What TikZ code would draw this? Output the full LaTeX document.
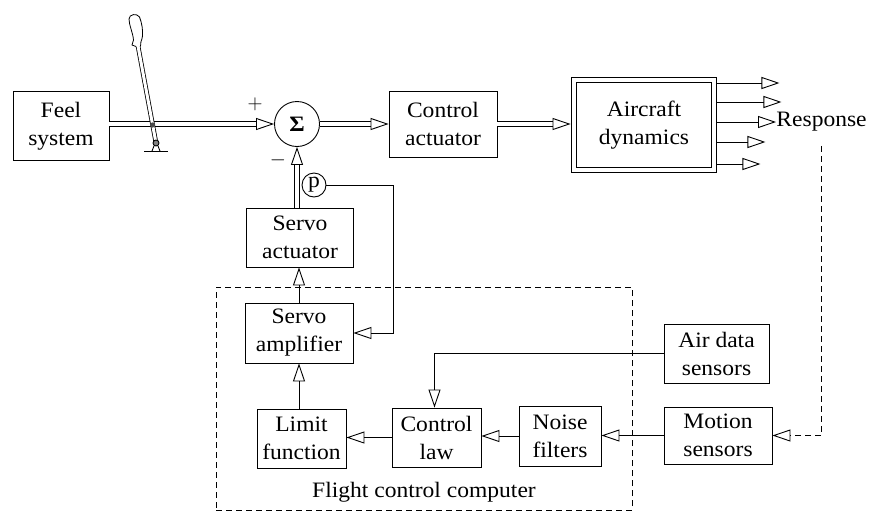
\documentclass[tikz,border=0pt]{standalone}
\usepackage{fontspec}
\setmainfont{Liberation Serif}[FakeStretch=1.07]
\usetikzlibrary{arrows.meta}

\tikzset{
  blk/.style={draw, align=center, inner sep=0pt},
  sig/.style={-{Triangle[open, length=18pt, width=12pt, line width=0.9pt]}},
  dbl/.style={double, double distance=4.5pt, -{Triangle[open, length=18pt, width=12pt, line width=0.9pt]}},
}

\begin{document}
\begin{tikzpicture}[x=1pt, y=-1pt, line width=0.9pt, font=\fontsize{22}{28}\selectfont]
    \useasboundingbox (0,0) rectangle (869,512);

    % forward path
    \node[blk, minimum width=96pt, minimum height=69pt] (feel) at (61,126) {Feel\\system};
    \node[circle, draw, minimum size=45pt, inner sep=0pt] (sum) at (297,124) {\bfseries Σ};
    \node[blk, minimum width=108pt, minimum height=66pt] (ctrlact) at (443,124) {Control\\actuator};
    \node[blk, double, double distance=4.5pt, minimum width=140pt, minimum height=90pt] (aircraft) at (644,125) {Aircraft\\dynamics};
    \node[anchor=west, inner sep=0pt] (resp) at (776,122) {Response};
    \node (plus) at (255,104) {$+$};
    \node (minus) at (278,160) {$-$};

    % feedback path
    \node[circle, draw, minimum size=24pt, inner sep=0pt] (p) at (314,185) {p};
    \node[blk, minimum width=107pt, minimum height=59pt] (servoact) at (300,237.5) {Servo\\actuator};
    \node[blk, minimum width=108pt, minimum height=60pt] (servoamp) at (299,333) {Servo\\amplifier};
    \node[blk, minimum width=89pt, minimum height=59pt] (limit) at (301.5,438.5) {Limit\\function};
    \node[blk, minimum width=89pt, minimum height=59pt] (law) at (436.5,437.5) {Control\\law};
    \node[blk, minimum width=82pt, minimum height=60pt] (noise) at (560,436) {Noise\\filters};
    \node[blk, minimum width=105pt, minimum height=59pt] (airdata) at (716.5,353.5) {Air data\\sensors};
    \node[blk, minimum width=108pt, minimum height=57pt] (motion) at (718,435.5) {Motion\\sensors};
    \node[draw, dash pattern=on 6pt off 4pt, minimum width=416pt, minimum height=223pt] (fcc) at (424,398.5) {};
    \node (fcclabel) at (424,492) {Flight control computer};

    % connectors
    \draw[dbl] (feel.east |- sum.west) -- (sum.west);
    \draw[dbl] (sum.east) -- (ctrlact.west);
    \draw[dbl] (ctrlact.east) -- ([xshift=-3pt]ctrlact.east -| aircraft.west);
    \foreach \y/\l in {83/62, 102/64, 142/48, 164/43}
        \draw[sig] ([xshift=3pt, yshift={(125-\y)*1pt}]aircraft.east) -- ++(\l,0);
    \draw[sig] ([xshift=3pt, yshift=3pt]aircraft.east) -- (resp.west);
    \draw[sig, dash pattern=on 6pt off 4pt] ([yshift=-14pt]resp.south) |- (motion.east);
    \draw[sig] (motion.west) -- (motion.west -| noise.east);
    \draw[sig] (noise.west) -- (noise.west -| law.east);
    \draw[sig] (law.west) -- (law.west -| limit.east);
    \draw[sig] (servoamp.south |- limit.north) -- (servoamp.south);
    \draw[sig] (airdata.west) -| ([xshift=-2pt]law.north);
    \draw[sig] (servoamp.north) -- (servoamp.north |- servoact.south);
    \draw[dbl] (servoact.north -| sum.south) -- (sum.south);
    \draw[sig] (p.east) -| ([xshift=40pt]servoamp.east) -- (servoamp.east);

    % control stick
    \draw[double, double distance=3pt, line width=0.8pt] (138,46) -- (156,143);
    \draw[fill=white, line width=0.8pt] (136,46.5) -- (132,45) -- (133.5,40) .. controls (133,33) and (129,25) .. (129,19)
        .. controls (129,14) and (137,13) .. (139.5,17) .. controls (142,23) and (143,31) .. (142.5,36)
        .. controls (142,41) and (139.5,43) .. (140.5,46.5);
    \fill[gray!60!black] (152.6,125) circle (2.6pt);
    \draw (144,151) -- (168,151);
    \draw (152,151) -- (154,146) (160,151) -- (158,146);
    \draw[fill=gray] (156,143) circle (3pt);
\end{tikzpicture}
\end{document}
